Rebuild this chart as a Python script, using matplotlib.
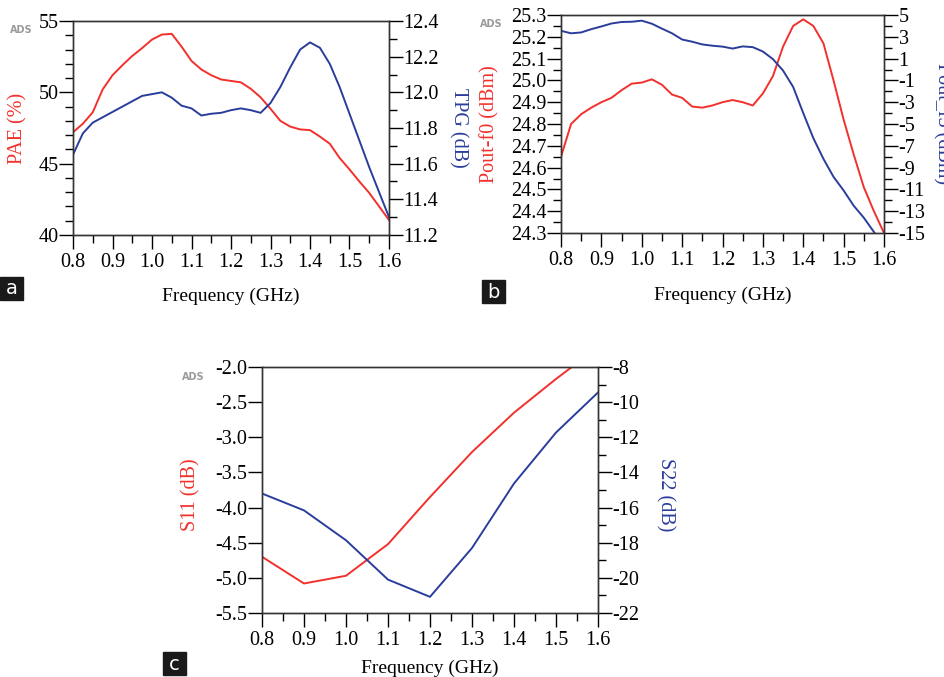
import numpy as np
import matplotlib.pyplot as plt
from matplotlib.ticker import MultipleLocator, FormatStrFormatter
from matplotlib.patches import Rectangle

W, H = 945, 677
RED = '#f2302c'
BLUE = '#2b3d9a'

# frequency grid for panels a and b (GHz)
freq_ab = np.round(np.arange(0.8, 1.6001, 0.025), 3)

pae = [47.2, 47.8, 48.6, 50.2, 51.2, 51.9, 52.55, 53.1, 53.7, 54.05, 54.1,
       53.2, 52.2, 51.6, 51.2, 50.9, 50.8, 50.7, 50.25, 49.65, 48.85, 48.0,
       47.6, 47.4, 47.35, 46.9, 46.4, 45.4, 44.6, 43.75, 42.95, 42.0, 41.05]
tpg = [11.65, 11.77, 11.83, 11.86, 11.89, 11.92, 11.95, 11.98, 11.99, 12.00,
       11.97, 11.925, 11.91, 11.87, 11.88, 11.885, 11.90, 11.91, 11.90, 11.885,
       11.94, 12.03, 12.14, 12.24, 12.28, 12.25, 12.16, 12.03, 11.88, 11.73,
       11.58, 11.44, 11.30]

pout_f0 = [24.65, 24.80, 24.845, 24.875, 24.90, 24.92, 24.955, 24.985, 24.99,
           25.005, 24.98, 24.935, 24.92, 24.88, 24.875, 24.885, 24.90, 24.91,
           24.90, 24.885, 24.94, 25.02, 25.155, 25.25, 25.28, 25.25, 25.17,
           25.0, 24.82, 24.66, 24.51, 24.40, 24.30]
pout_f3 = [3.55, 3.32, 3.40, 3.70, 3.95, 4.22, 4.36, 4.38, 4.48, 4.20, 3.75,
           3.32, 2.75, 2.55, 2.30, 2.18, 2.10, 1.92, 2.12, 2.05, 1.65, 0.95,
           -0.1, -1.6, -4.0, -6.3, -8.2, -9.85, -11.1, -12.5, -13.6, -14.9, -16.2]

# panel c, 0.1 GHz steps
freq_c = [0.8, 0.9, 1.0, 1.1, 1.2, 1.3, 1.4, 1.5, 1.6]
s11 = [-4.70, -5.08, -4.97, -4.52, -3.85, -3.21, -2.65, -2.17, -1.72]
s22 = [-15.2, -16.16, -17.86, -20.1, -21.08, -18.3, -14.63, -11.73, -9.45]

plt.rcParams['font.family'] = 'Liberation Serif'
plt.rcParams['font.size'] = 14.5
plt.rcParams['axes.unicode_minus'] = False

fig = plt.figure(figsize=(W / 100, H / 100), dpi=100)


def box(x0, y0, x1, y1):
    return [x0 / W, 1 - y1 / H, (x1 - x0) / W, (y1 - y0) / H]


def style(ax, major, minor, fmt):
    ax.yaxis.set_major_locator(MultipleLocator(major))
    if minor:
        ax.yaxis.set_minor_locator(MultipleLocator(minor))
    ax.yaxis.set_major_formatter(FormatStrFormatter(fmt))
    ax.tick_params(axis='y', which='major', length=10, width=1, pad=0.5)
    ax.tick_params(axis='y', which='minor', length=6, width=1)


def make_panel(rect, letter, letter_px, ads_px):
    ax = fig.add_axes(box(*rect))
    ax.set_xlim(0.8, 1.6)
    ax.xaxis.set_major_locator(MultipleLocator(0.1))
    ax.xaxis.set_minor_locator(MultipleLocator(0.05))
    ax.xaxis.set_major_formatter(FormatStrFormatter('%.1f'))
    ax.tick_params(axis='x', which='major', length=10, width=1, pad=3)
    ax.tick_params(axis='x', which='minor', length=6, width=1)
    for s in ax.spines.values():
        s.set_linewidth(1.0)
        s.set_color('#333333')
    ax.set_xlabel('Frequency (GHz)', fontsize=14)
    ax2 = ax.twinx()
    for s in ax2.spines.values():
        s.set_linewidth(1.0)
        s.set_color('#333333')
    lx, ly = letter_px
    fig.patches.append(Rectangle((lx / W, 1 - (ly + 23) / H), 23 / W, 23 / H,
                                 transform=fig.transFigure, color='#1a1a1a'))
    fig.text((lx + 11.5) / W, 1 - (ly + 12) / H, letter, color='white',
             family='DejaVu Sans', fontsize=14, ha='center', va='center')
    fig.text(ads_px[0] / W, 1 - ads_px[1] / H, 'ADS', color='#9a9a9a',
             family='DejaVu Sans', fontsize=7, fontweight='bold',
             ha='left', va='center')
    return ax, ax2


def ylab(axis, text, color, rot, x, y):
    axis.set_ylabel(text, color=color, fontsize=14.5, rotation=rot,
                    va='center', ha='center')
    axis.yaxis.set_label_coords(x, y)


# panel a
ax, ax2 = make_panel((73, 21, 389, 235), 'a', (0, 277), (10, 30))
ax.plot(freq_ab, pae, color=RED, lw=1.4)
ax.set_ylim(40, 55)
style(ax, 5, 1, '%d')
ylab(ax, 'PAE (%)', RED, 90, -0.174, 0.5)
ax2.plot(freq_ab, tpg, color=BLUE, lw=1.4)
ax2.set_ylim(11.2, 12.4)
style(ax2, 0.2, 0.1, '%.1f')
ylab(ax2, 'TPG (dB)', BLUE, 270, 1.218, 0.5)
ax.xaxis.set_label_coords(0.5, -0.245)

# panel b
ax, ax2 = make_panel((561, 15, 884, 233), 'b', (482, 280), (480, 24))
ax.plot(freq_ab, pout_f0, color=RED, lw=1.4)
ax.set_ylim(24.3, 25.3)
style(ax, 0.1, 0.05, '%.1f')
ylab(ax, 'Pout-f0 (dBm)', RED, 90, -0.22, 0.5)
ax2.plot(freq_ab, pout_f3, color=BLUE, lw=1.4)
ax2.set_ylim(-15, 5)
ax2.set_yticks(np.arange(-15, 6, 2))
ax2.yaxis.set_minor_locator(MultipleLocator(1))
ax2.tick_params(axis='y', which='major', length=10, width=1, pad=0.5)
ax2.tick_params(axis='y', which='minor', length=6, width=1)
# label runs off the right edge of the figure, as in the original
ylab(ax2, 'Pout_f3 (dBm)', BLUE, 270, 1.18, 0.5)
ax.xaxis.set_label_coords(0.5, -0.245)

# panel c
ax, ax2 = make_panel((262, 367, 598, 613), 'c', (163, 652), (182, 377))
ax.plot(freq_c, s11, color=RED, lw=1.4)
ax.set_ylim(-5.5, -2.0)
style(ax, 0.5, None, '%.1f')
ylab(ax, 'S11 (dB)', RED, 90, -0.211, 0.48)
ax2.plot(freq_c, s22, color=BLUE, lw=1.4)
ax2.set_ylim(-22, -8)
style(ax2, 2, 1, '%d')
ylab(ax2, 'S22 (dB)', BLUE, 270, 1.20, 0.48)
ax.xaxis.set_label_coords(0.5, -0.19)

fig.savefig('out.png', dpi=100)
